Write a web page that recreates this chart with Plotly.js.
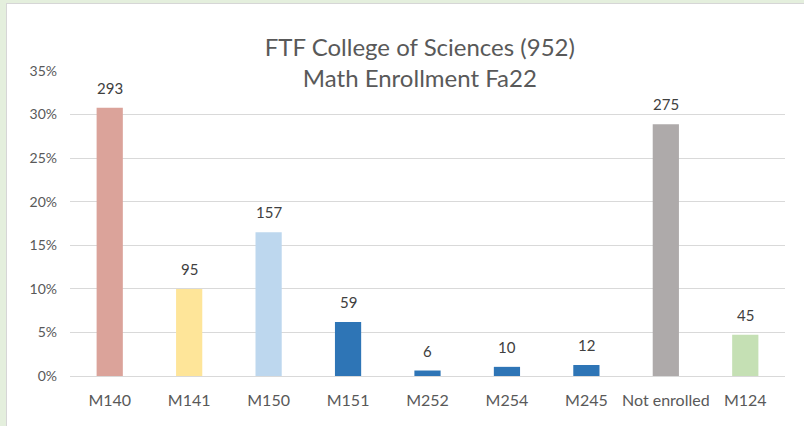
<!DOCTYPE html>
<html>
<head>
<meta charset="utf-8">
<script src="https://cdn.plot.ly/plotly-3.0.1.min.js"></script>
<style>
  html, body { margin: 0; padding: 0; width: 804px; height: 426px; overflow: hidden; background: #e4efdd; }
  #frame { position: absolute; left: 6px; top: 3px; width: 798px; height: 423px; background: #d6d6d6; }
  #chart { position: absolute; left: 7px; top: 4px; width: 797px; height: 422px; background: #fff; }
</style>
</head>
<body>
<div id="frame"></div>
<div id="chart"></div>
<script>
const categories = ["M140", "M141", "M150", "M151", "M252", "M254", "M245", "Not enrolled", "M124"];
const counts = [293, 95, 157, 59, 6, 10, 12, 275, 45];
const total = 952;
const barColors = ["#dba39a", "#fee599", "#bdd7ee", "#2e75b6", "#2e75b6", "#2e75b6", "#2e75b6", "#aeaaaa", "#c5e0b4"];

const shares = counts.map(c => c / total);
const FONT = "Lato, 'Open Sans', sans-serif";

const trace = {
  type: "bar",
  x: categories,
  y: shares,
  marker: { color: barColors },
  width: 0.33,
  hoverinfo: "skip"
};

const labels = categories.map((c, i) => ({
  x: c,
  y: shares[i],
  xref: "x",
  yref: "y",
  text: String(counts[i]),
  showarrow: false,
  yanchor: "bottom",
  yshift: 9,
  font: { family: FONT, size: 15, color: "#404040" }
}));

const layout = {
  width: 797,
  height: 422,
  margin: { l: 63, r: 19, t: 67, b: 50 },
  paper_bgcolor: "#ffffff",
  plot_bgcolor: "#ffffff",
  showlegend: false,
  title: {
    text: "FTF College of Sciences (952)<br>Math Enrollment Fa22",
    font: { family: FONT, size: 24, color: "#595959" },
    xref: "container", x: 0.518, xanchor: "center",
    yref: "container", y: 0.877, yanchor: "middle"
  },
  annotations: labels,
  xaxis: {
    type: "category",
    showgrid: false,
    showline: true,
    linecolor: "#d9d9d9",
    linewidth: 1,
    ticks: "",
    ticklabelstandoff: 10,
    tickfont: { family: FONT, size: 16, color: "#595959" },
    tickangle: 0
  },
  yaxis: {
    range: [0, 0.35],
    dtick: 0.05,
    tickformat: ".0%",
    showgrid: true,
    gridcolor: "#d9d9d9",
    gridwidth: 1,
    zeroline: false,
    ticks: "",
    ticklabelstandoff: 12,
    tickfont: { family: FONT, size: 14, color: "#595959" }
  }
};

Plotly.newPlot("chart", [trace], layout, { displayModeBar: false, staticPlot: true });
</script>
</body>
</html>
